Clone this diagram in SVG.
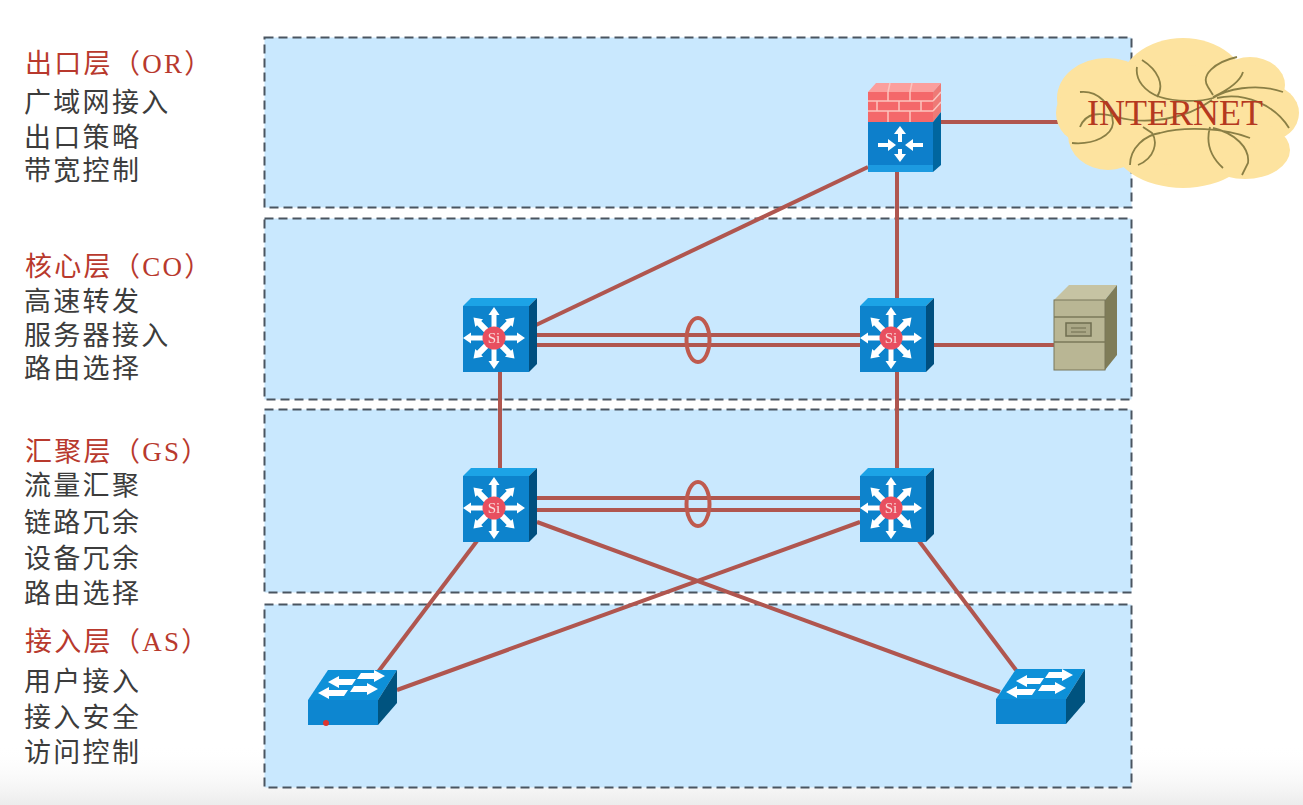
<svg xmlns="http://www.w3.org/2000/svg" width="1303" height="805" viewBox="0 0 1303 805">
<style>
.layer{fill:#c9e8fe;stroke:#4a5560;stroke-width:2;stroke-dasharray:9 5}
.link{fill:none;stroke:#b0564f;stroke-width:4}
.ring{fill:none;stroke:#bf5a4e;stroke-width:4}
.t{font-family:"Noto Sans CJK SC",sans-serif;font-size:27px;fill:#3c3c3c;letter-spacing:2.300px}
.h{font-family:"Liberation Serif","Noto Sans CJK SC",serif;font-size:27px;fill:#b8392d;letter-spacing:2.300px}
.a{fill:#fff;stroke:none}
.c{fill:none;stroke:#8a7f45;stroke-width:1.800}
.soft{filter:url(#soft)}
</style>
<defs>
<filter id="soft" x="-5%" y="-5%" width="110%" height="110%"><feGaussianBlur stdDeviation="0.600"/></filter>
<linearGradient id="fade" x1="0" y1="0" x2="0" y2="1"><stop offset="0" stop-color="#fff" stop-opacity="0"/><stop offset="1" stop-color="#ececec"/></linearGradient>
<path id="arrowU" class="a" d="M-2.500 -5V-23H-5.500L0 -31L5.500 -23H2.500V-5Z"/>
<path id="arrowD" class="a" d="M-3 -4.500V-21H-5.500L0 -29L5.500 -21H3V-4.500Z"/>
<g id="si">
<polygon points="0,8 8,0 74,0 66,8" fill="#1ea3e6"/>
<polygon points="66,8 74,0 74,66 66,74" fill="#03507f"/>
<rect x="0" y="8" width="66" height="66" fill="#0a83cc"/>
<g transform="translate(31,40)">
<use href="#arrowU"/>
<use href="#arrowD" transform="rotate(45)"/>
<use href="#arrowU" transform="rotate(90)"/>
<use href="#arrowD" transform="rotate(135)"/>
<use href="#arrowU" transform="rotate(180)"/>
<use href="#arrowD" transform="rotate(225)"/>
<use href="#arrowU" transform="rotate(270)"/>
<use href="#arrowD" transform="rotate(315)"/>
<circle r="11.500" fill="#e8505f"/>
<text y="5" text-anchor="middle" font-family="Liberation Serif,serif" font-size="15" fill="#fbdcdc">Si</text>
</g>
</g>
<g id="l2">
<polygon points="0,30 20,0 89,0 70,30" fill="#0f90d8"/>
<polygon points="70,30 89,0 89,33 70,55" fill="#04527f"/>
<rect x="0" y="30" width="70" height="25" fill="#0a86d0"/>
<path class="a" d="M20 12L31 6V9H48L44 15H31V18Z"/>
<path class="a" d="M77 5L66 11V8H49L53 2H66V-1Z" transform="translate(0,1)"/>
<path class="a" d="M10 23L21 17V20H40L36 26H21V29Z"/>
<path class="a" d="M70 19L59 25V22H42L46 16H59V13Z"/>
</g>
</defs>
<rect width="1303" height="805" fill="#fff"/>
<rect y="745" width="1303" height="60" fill="url(#fade)"/>
<g id="layers">
<rect class="layer" x="264.500" y="37.500" width="867" height="170"/>
<rect class="layer" x="264.500" y="218.500" width="867" height="181"/>
<rect class="layer" x="264.500" y="409.500" width="867" height="183"/>
<rect class="layer" x="264.500" y="604.500" width="867" height="183"/>
</g>
<g id="connectors">
<path class="link" d="M941 122H1058"/>
<path class="link" d="M868 167L536 325"/>
<path class="link" d="M897 172V298"/>
<path class="link" d="M537 335H860M537 345H860"/>
<ellipse class="ring" cx="698" cy="340" rx="11.500" ry="22"/>
<path class="link" d="M934 345H1055"/>
<path class="link" d="M500 372V468"/>
<path class="link" d="M897 372V468"/>
<path class="link" d="M537 498H860M537 510H860"/>
<ellipse class="ring" cx="698" cy="504" rx="11.500" ry="22"/>
<path class="link" d="M477 541L378 672"/>
<path class="link" d="M860 522L397 690"/>
<path class="link" d="M537 522L1000 692"/>
<path class="link" d="M919 541L1016 670"/>
</g>
<g id="firewall" class="soft">
<polygon points="868,92 876,83 941,83 933,92" fill="#fb9f9d"/>
<polygon points="933,92 941,83 941,112 933,122" fill="#ee7a76"/>
<rect x="868" y="92" width="65" height="30" fill="#f4686a"/>
<path d="M868 101H933M868 111H933M888 92V101M910 92V101M877 101V111M899 101V111M921 101V111M888 111V122M910 111V122M890 83L888 92M912 83L910 92M933 101L941 92M933 111L941 102" stroke="#fcc4bf" stroke-width="1.500" fill="none"/>
<polygon points="933,122 941,112 941,165 933,172" fill="#03669f"/>
<rect x="868" y="122" width="65" height="50" fill="#0a7fcb"/>
<rect x="868" y="165" width="65" height="7" fill="#1a9ae0"/>
<path class="a" d="M878 143h10v-4l8 6-8 6v-4h-10zM923 143h-10v-4l-8 6 8 6v-4h10zM898 142v-8h-4l6-8 6 8h-4v8zM898 149v5h-4l6 8 6-8h-4v-5z"/>
</g>
<g id="cloud">
<g fill="#fde39f" class="soft">
<ellipse cx="1107" cy="98" rx="50" ry="40"/>
<ellipse cx="1085" cy="113" rx="29" ry="30"/>
<ellipse cx="1183" cy="90" rx="65" ry="52"/>
<ellipse cx="1250" cy="85" rx="35" ry="28"/>
<ellipse cx="1268" cy="113" rx="31" ry="28"/>
<ellipse cx="1245" cy="150" rx="45" ry="29"/>
<ellipse cx="1183" cy="140" rx="72" ry="48"/>
<ellipse cx="1108" cy="135" rx="40" ry="35"/>
<ellipse cx="1180" cy="115" rx="90" ry="50"/>
</g>
<path class="c" d="M1142 60C1158 70 1165 85 1157 97M1137 67C1135 80 1145 92 1160 97C1175 102 1200 102 1213 98C1225 90 1255 82 1283 92M1237 57C1215 62 1200 75 1208 87L1213 95M1243 72C1240 82 1228 90 1213 97M1217 98C1245 92 1275 105 1289 128M1080 92C1098 90 1112 105 1113 123C1112 135 1095 145 1072 143M1080 127C1086 112 1100 112 1117 117C1145 125 1185 120 1212 100M1138 165C1155 158 1158 142 1152 133L1143 127M1130 165C1130 148 1145 135 1160 133C1185 126 1225 128 1250 138M1210 127C1205 145 1212 158 1223 168M1213 128C1235 133 1250 148 1248 163L1242 175"/>
<text x="1175" y="125" text-anchor="middle" font-family="Liberation Serif,serif" font-size="36" fill="#b5391f">INTERNET</text>
</g>
<g id="core1" class="soft"><use href="#si" x="463" y="298"/></g>
<g id="core2" class="soft"><use href="#si" x="860" y="298"/></g>
<g id="dist1" class="soft"><use href="#si" x="463" y="468"/></g>
<g id="dist2" class="soft"><use href="#si" x="860" y="468"/></g>
<g id="server" class="soft">
<polygon points="1054,300 1069,285 1117,285 1105,300" fill="#c6c3a3"/>
<polygon points="1105,300 1117,285 1117,355 1105,370" fill="#7f7c58"/>
<rect x="1054" y="300" width="51" height="70" fill="#b9b694" stroke="#78765a" stroke-width="1"/>
<path d="M1054 317H1105M1054 342H1105" stroke="#7b7958" stroke-width="1.500"/>
<rect x="1066" y="323" width="25" height="13" fill="#aaa786" stroke="#6f6d50" stroke-width="1.500"/>
<path d="M1071 328H1086M1071 332H1086" stroke="#6f6d50"/>
</g>
<g id="access1" class="soft"><use href="#l2" x="308" y="670"/><circle cx="326" cy="723" r="3" fill="#e0342f"/></g>
<g id="access2" class="soft"><use href="#l2" x="996" y="669"/></g>
<g id="labels">
<text class="h" x="25" y="73">出口层（OR）</text>
<text class="t" x="24" y="112">广域网接入</text>
<text class="t" x="24" y="147">出口策略</text>
<text class="t" x="24" y="180">带宽控制</text>
<text class="h" x="25" y="276">核心层（CO）</text>
<text class="t" x="24" y="311">高速转发</text>
<text class="t" x="24" y="345">服务器接入</text>
<text class="t" x="24" y="378">路由选择</text>
<text class="h" x="25" y="461">汇聚层（GS）</text>
<text class="t" x="24" y="495">流量汇聚</text>
<text class="t" x="24" y="532">链路冗余</text>
<text class="t" x="24" y="568">设备冗余</text>
<text class="t" x="24" y="603">路由选择</text>
<text class="h" x="25" y="651">接入层（AS）</text>
<text class="t" x="24" y="691">用户接入</text>
<text class="t" x="24" y="727">接入安全</text>
<text class="t" x="24" y="762">访问控制</text>
</g>
</svg>
